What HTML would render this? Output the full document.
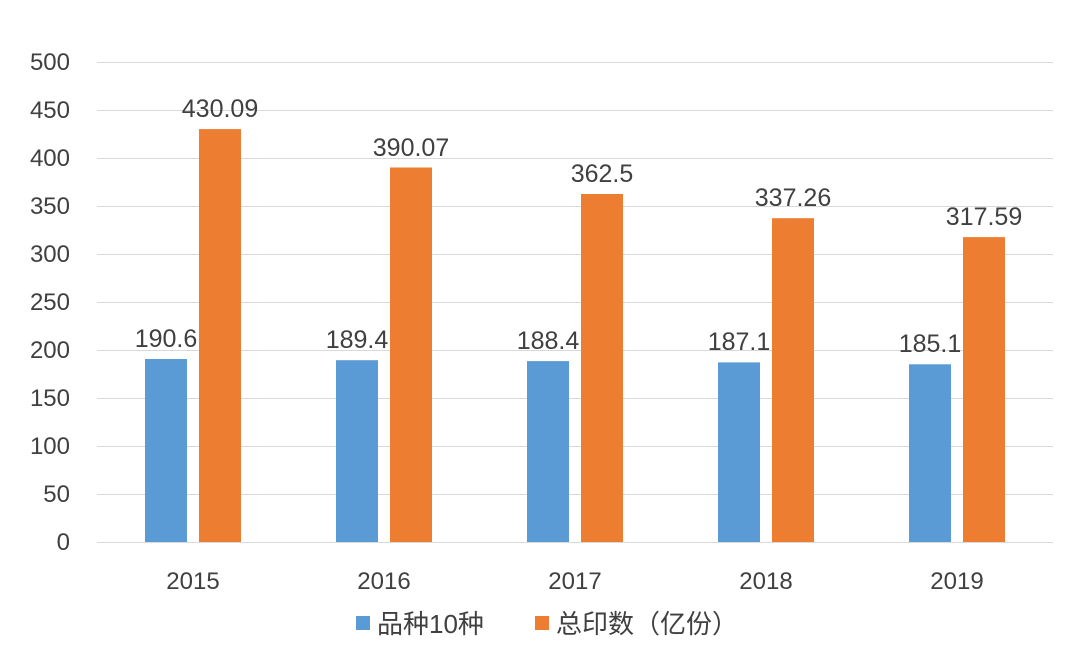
<!DOCTYPE html>
<html><head><meta charset="utf-8"><style>
body{margin:0;background:#fff;}
svg text{font-family:"Liberation Sans","Noto Sans CJK SC",sans-serif;fill:#404040;}
</style></head><body>
<svg width="1080" height="665" xmlns="http://www.w3.org/2000/svg">
<g stroke="#d9d9d9" stroke-width="1">
<line x1="97" x2="1053" y1="62.5" y2="62.5"/><line x1="97" x2="1053" y1="110.5" y2="110.5"/>
<line x1="97" x2="1053" y1="158.5" y2="158.5"/><line x1="97" x2="1053" y1="206.5" y2="206.5"/>
<line x1="97" x2="1053" y1="254.5" y2="254.5"/><line x1="97" x2="1053" y1="302.5" y2="302.5"/>
<line x1="97" x2="1053" y1="350.5" y2="350.5"/><line x1="97" x2="1053" y1="398.5" y2="398.5"/>
<line x1="97" x2="1053" y1="446.5" y2="446.5"/><line x1="97" x2="1053" y1="494.5" y2="494.5"/>
<line x1="97" x2="1053" y1="542.5" y2="542.5"/>
</g>
<g font-size="24" text-anchor="end">
<text x="70" y="70">500</text><text x="70" y="118">450</text><text x="70" y="166">400</text>
<text x="70" y="214">350</text><text x="70" y="262">300</text><text x="70" y="310">250</text>
<text x="70" y="358">200</text><text x="70" y="406">150</text><text x="70" y="454">100</text>
<text x="70" y="502">50</text><text x="70" y="550">0</text>
</g>
<g fill="#5b9bd5">
<rect x="145" y="359" width="42" height="183"/><rect x="336" y="360.2" width="42" height="181.8"/>
<rect x="527" y="361.1" width="42" height="180.9"/><rect x="718" y="362.4" width="42" height="179.6"/>
<rect x="909" y="364.3" width="42" height="177.7"/>
</g>
<g fill="#ed7d31">
<rect x="199" y="129.1" width="42" height="412.9"/><rect x="390" y="167.5" width="42" height="374.5"/>
<rect x="581" y="194" width="42" height="348"/><rect x="772" y="218.2" width="42" height="323.8"/>
<rect x="963" y="237.1" width="42" height="304.9"/>
</g>
<g font-size="25" text-anchor="middle">
<text x="166" y="347">190.6</text><text x="357" y="348">189.4</text><text x="548" y="349">188.4</text>
<text x="739" y="350">187.1</text><text x="930" y="352">185.1</text>
<text x="220" y="117">430.09</text><text x="411" y="156">390.07</text><text x="602" y="182">362.5</text>
<text x="793" y="206">337.26</text><text x="984" y="225">317.59</text>
</g>
<g font-size="24" text-anchor="middle">
<text x="193" y="589">2015</text><text x="384" y="589">2016</text><text x="575" y="589">2017</text>
<text x="766" y="589">2018</text><text x="957" y="589">2019</text>
</g>
<rect x="356" y="616" width="14" height="14" fill="#5b9bd5"/>
<text x="377" y="633" font-size="26">品种10种</text>
<rect x="535" y="616" width="14" height="14" fill="#ed7d31"/>
<text x="556" y="633" font-size="26">总印数（亿份）</text>
</svg>
</body></html>
